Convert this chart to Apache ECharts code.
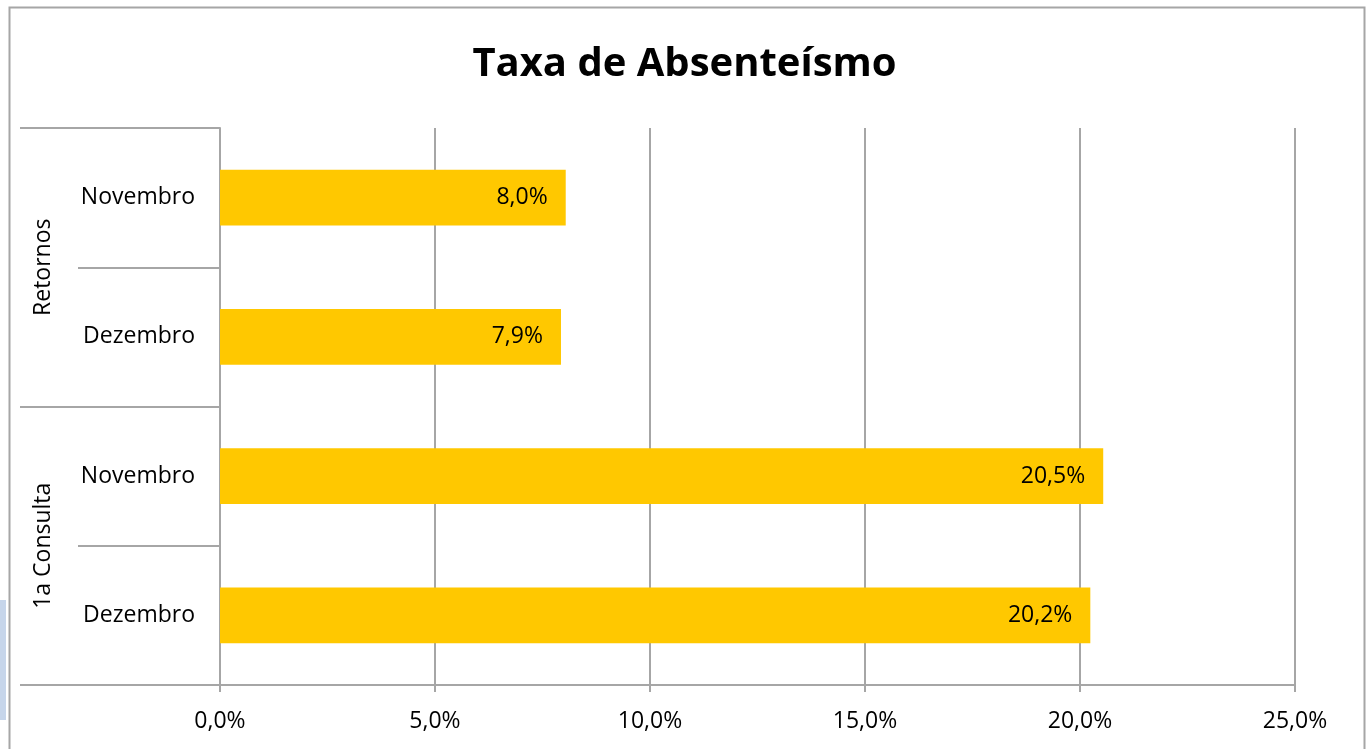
<!DOCTYPE html>
<html>
<head>
<meta charset="utf-8">
<script src="https://cdn.jsdelivr.net/npm/echarts@6/dist/echarts.min.js"></script>
<style>
html,body{margin:0;padding:0;background:#fff;}
#chart{width:1369px;height:749px;}
</style>
</head>
<body>
<div id="chart"></div>
<script>
var title = "Taxa de Absenteísmo";
var groups = ["Retornos", "1a Consulta"];
var categories = ["Novembro", "Dezembro", "Novembro", "Dezembro"];
var values = [8.04, 7.93, 20.54, 20.24];
var xTicks = [0, 5, 10, 15, 20, 25];

var FONT = "Open Sans";
var GRAY = "#a6a6a6";
function pct(v) { return Number(v).toFixed(1).replace(".", ",") + "%"; }

var chart = echarts.init(document.getElementById("chart"));
chart.setOption({
  backgroundColor: "#ffffff",
  animation: false,
  title: {
    text: title,
    left: "center",
    top: 40,
    textStyle: { fontFamily: FONT, fontSize: 40, fontWeight: "bold", color: "#000" }
  },
  graphic: [
    { type: "rect", left: 0, top: 600, shape: { width: 6, height: 120 }, style: { fill: "#c6d5ea" }, silent: true },
    { type: "rect", left: 7, top: 5, shape: { x: 0, y: 0, width: 1355, height: 780 }, style: { fill: null, stroke: GRAY, lineWidth: 2 }, silent: true }
  ],
  grid: { left: 220, right: 74, top: 128, bottom: 64, containLabel: false },
  xAxis: {
    type: "value",
    min: xTicks[0],
    max: xTicks[xTicks.length - 1],
    interval: 5,
    axisLine: { show: true, lineStyle: { color: GRAY, width: 2 } },
    axisTick: { show: true, length: 7, lineStyle: { color: GRAY, width: 2 } },
    splitLine: { show: true, lineStyle: { color: GRAY, width: 2 } },
    axisLabel: { formatter: pct, fontFamily: FONT, fontSize: 23, color: "#000", margin: 25 }
  },
  yAxis: [
    {
      type: "category",
      data: categories,
      inverse: true,
      position: "left",
      axisLine: { show: true, lineStyle: { color: GRAY, width: 2 } },
      axisTick: { show: true, length: 142, lineStyle: { color: GRAY, width: 2 } },
      axisLabel: { fontFamily: FONT, fontSize: 23, color: "#000", margin: 25 },
      splitLine: { show: false }
    },
    {
      type: "category",
      data: groups,
      inverse: true,
      position: "left",
      axisLine: { show: false },
      axisTick: { show: true, length: 200, lineStyle: { color: GRAY, width: 2 } },
      axisLabel: { rotate: 90, fontFamily: FONT, fontSize: 23, color: "#000", margin: 165 },
      splitLine: { show: false }
    }
  ],
  series: [{
    type: "bar",
    yAxisIndex: 0,
    data: values,
    barCategoryGap: "60%",
    itemStyle: { color: "#ffc800" },
    label: {
      show: true,
      position: "insideRight",
      distance: 18,
      formatter: function (p) { return pct(p.value); },
      fontFamily: FONT,
      fontSize: 23,
      color: "#000"
    }
  }]
});
</script>
</body>
</html>
